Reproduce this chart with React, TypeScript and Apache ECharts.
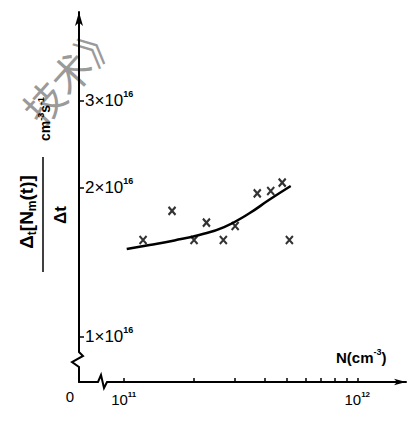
import React, { useEffect, useRef } from "react";
import * as echarts from "echarts";

// measured points (N in cm^-3, rate in 1e16 cm^-3 s^-1)
const markN = [1.21e11, 1.61e11, 2.0e11, 2.26e11, 2.67e11, 3.0e11, 3.73e11, 4.26e11, 4.77e11, 5.12e11];
const markRate = [1.651, 1.846, 1.651, 1.767, 1.651, 1.745, 1.964, 1.98, 2.036, 1.651];
// fitted curve
const curveN = [1.03e11, 1.29e11, 1.648e11, 2.106e11, 2.69e11, 3.438e11, 4.181e11, 5.187e11];
const curveRate = [1.591, 1.617, 1.648, 1.685, 1.738, 1.829, 1.919, 2.013];
// axis ticks
const yTickValues = [1, 2, 3];
const xTickValues = [1e11, 2e11, 3e11, 4e11, 5e11, 6e11, 7e11, 8e11, 9e11, 1e12];
const xLabelValues = [1e11, 1e12];

const FONT = "Liberation Sans";

export default function App() {
  const ref = useRef<HTMLDivElement>(null);
  useEffect(() => {
    if (!ref.current) return;
    const chart = echarts.init(ref.current, null, { renderer: "svg" });
    const option: any = {
      animation: false,
      backgroundColor: "#fff",
      grid: { left: 79, right: 4, top: 12, bottom: 42 },
      xAxis: {
        type: "log",
        min: Math.pow(10, 10.8085),
        max: Math.pow(10, 12.2085),
        splitLine: { show: false },
        axisLine: {
          lineStyle: { color: "#000", width: 2 },
          symbol: ["none", "arrow"],
          symbolSize: [5, 12],
        },
        axisTick: { inside: true, length: 4, lineStyle: { color: "#000", width: 1.5 }, customValues: xTickValues },
        axisLabel: {
          customValues: xLabelValues,
          margin: 8,
          color: "#000",
          formatter: (v: number) => `{a|10}{s|${Math.round(Math.log10(v))}}`,
          rich: {
            a: { fontSize: 15, lineHeight: 18, fontFamily: FONT, color: "#000" },
            s: { fontSize: 8, lineHeight: 9, verticalAlign: "top", fontFamily: FONT, fontWeight: "bold", color: "#000" },
          },
        },
      },
      yAxis: {
        type: "value",
        min: 0,
        max: 3.597,
        breaks: [
          { start: 0.15, end: 0.848, gap: 0 },
          { start: 2.3, end: 2.716, gap: 0 },
        ],
        breakArea: { show: false },
        splitLine: { show: false },
        axisLine: {
          lineStyle: { color: "#000", width: 2 },
          symbol: ["none", "arrow"],
          symbolSize: [6, 14],
        },
        axisTick: { inside: true, length: 5, lineStyle: { color: "#000", width: 1.5 }, customValues: yTickValues },
        axisLabel: {
          inside: true,
          customValues: yTickValues,
          margin: 6,
          color: "#000",
          formatter: (v: number) => `{a|${v}×10}{s|16}`,
          rich: {
            a: { fontSize: 17, lineHeight: 22, fontFamily: FONT, color: "#000" },
            s: { fontSize: 9, lineHeight: 10, verticalAlign: "top", fontFamily: FONT, fontWeight: "bold", color: "#000" },
          },
        },
      },
      graphic: [
        {
          type: "text",
          x: 70,
          y: 72,
          rotation: (48 * Math.PI) / 180,
          z: -10,
          style: {
            text: "技术》",
            fontSize: 40,
            fontFamily: "Noto Sans CJK SC",
            fill: "#9a9a9a",
            align: "center",
            verticalAlign: "middle",
          },
        },
        {
          type: "text",
          x: 26,
          y: 212,
          rotation: Math.PI / 2,
          style: {
            text: "{a|Δ}{b|t}{a|[N}{b|m}{a|(t)]}",
            align: "center",
            verticalAlign: "middle",
            rich: {
              a: { fontSize: 19, lineHeight: 24, fontFamily: FONT, fontWeight: "bold", fill: "#000" },
              b: { fontSize: 12, lineHeight: 13, verticalAlign: "bottom", fontFamily: FONT, fontWeight: "bold", fill: "#000" },
            },
          },
        },
        { type: "line", shape: { x1: 43, y1: 157, x2: 43, y2: 272 }, style: { stroke: "#000", lineWidth: 1.5 } },
        {
          type: "text",
          x: 60,
          y: 215,
          rotation: Math.PI / 2,
          style: { text: "Δt", fontSize: 17, fontWeight: "bold", fontFamily: FONT, fill: "#000", align: "center", verticalAlign: "middle" },
        },
        {
          type: "text",
          x: 45,
          y: 119,
          rotation: Math.PI / 2,
          style: {
            text: "{a|cm}{s|-3}{a|s}{s|-1}",
            align: "center",
            verticalAlign: "middle",
            rich: {
              a: { fontSize: 14, lineHeight: 18, fontFamily: FONT, fontWeight: "bold", fill: "#000" },
              s: { fontSize: 9, lineHeight: 10, verticalAlign: "top", fontFamily: FONT, fontWeight: "bold", fill: "#000" },
            },
          },
        },
        {
          type: "text",
          x: 70,
          y: 396,
          style: { text: "0", fontSize: 15, fontFamily: FONT, fill: "#000", align: "center", verticalAlign: "middle" },
        },
        {
          type: "text",
          x: 336,
          y: 357,
          style: {
            text: "{a|N(cm}{s|-3}{a|)}",
            align: "left",
            verticalAlign: "middle",
            rich: {
              a: { fontSize: 15, lineHeight: 20, fontFamily: FONT, fontWeight: "bold", fill: "#000" },
              s: { fontSize: 9, lineHeight: 10, verticalAlign: "top", fontFamily: FONT, fontWeight: "bold", fill: "#000" },
            },
          },
        },
        // axis break marks
        { type: "rect", shape: { x: 76, y: 351, width: 7, height: 16 }, style: { fill: "#fff" }, z: 50 },
        {
          type: "polyline",
          z: 51,
          shape: { points: [[79, 348], [79, 352], [83, 356], [72, 362], [79, 367], [79, 370]] },
          style: { stroke: "#000", lineWidth: 2, fill: "none" },
        },
        { type: "rect", shape: { x: 97, y: 379, width: 10, height: 6 }, style: { fill: "#fff" }, z: 50 },
        {
          type: "polyline",
          z: 51,
          shape: { points: [[95, 382], [98, 382], [101, 375], [104, 388], [107, 382], [110, 382]] },
          style: { stroke: "#000", lineWidth: 2, fill: "none" },
        },
      ],
      series: [
        {
          type: "line",
          data: curveN.map((n, i) => [n, curveRate[i]]),
          smooth: 0.5,
          symbol: "none",
          lineStyle: { color: "#000", width: 2.5 },
          z: 3,
        },
        {
          type: "scatter",
          data: markN.map((n, i) => [n, markRate[i]]),
          symbol: "path://M0,0L10,12M10,0L0,12",
          symbolSize: [7, 8],
          itemStyle: { color: "rgba(0,0,0,0)", borderColor: "#000", borderWidth: 2.2 },
          z: 4,
        },
      ],
    };
    chart.setOption(option);
    return () => chart.dispose();
  }, []);
  return <div ref={ref} style={{ position: "fixed", left: 0, top: 0, width: 410, height: 424 }} />;
}
